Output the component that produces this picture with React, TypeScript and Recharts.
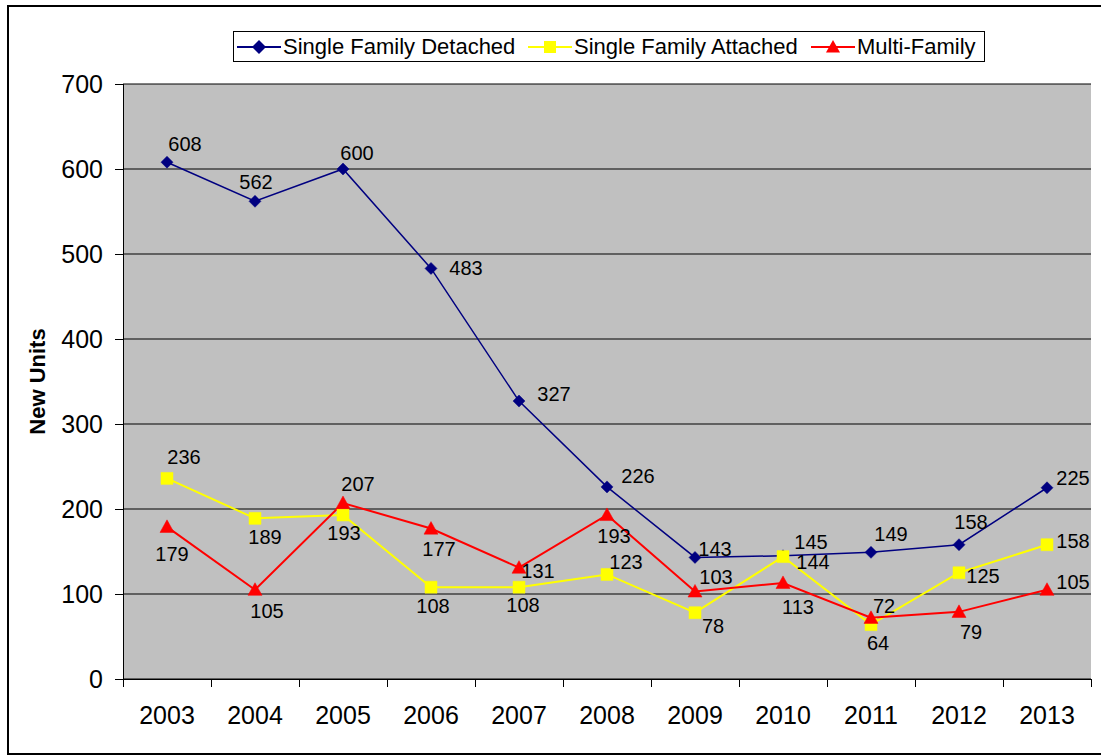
import {
  LineChart, Line, XAxis, YAxis, CartesianGrid, Legend, LabelList
} from 'recharts'

const YEARS = ['2003', '2004', '2005', '2006', '2007', '2008', '2009', '2010', '2011', '2012', '2013']
const DETACHED = [608, 562, 600, 483, 327, 226, 143, 145, 149, 158, 225]
const ATTACHED = [236, 189, 193, 108, 108, 123, 78, 144, 64, 125, 158]
const MULTI = [179, 105, 207, 177, 131, 193, 103, 113, 72, 79, 105]
const Y_TICKS = [0, 100, 200, 300, 400, 500, 600, 700]

// hand-placed data label offsets (dx, dy), like the excel original
const DETACHED_LABEL_POS = [[18, -18], [1, -19], [14, -16], [35, 0], [35, -7], [31, -11], [20, -8], [28, -14], [20, -18], [12, -23], [26, -10]]
const ATTACHED_LABEL_POS = [[17, -21], [10, 19], [1, 18], [2, 19], [4, 18], [19, -12], [18, 13], [30, 5], [7, 18], [24, 3], [26, -4]]
const MULTI_LABEL_POS = [[5, 27], [12, 21], [15, -19], [8, 20], [19, 3], [7, 21], [21, -14], [15, 24], [13, -12], [12, 20], [26, -8]]

const data = YEARS.map((year, i) => ({
  year,
  detached: DETACHED[i],
  attached: ATTACHED[i],
  multi: MULTI[i],
}))

const W = 1101
const H = 756
const PLOT_LEFT = 123
const PLOT_RIGHT = 1091
const HALF_BAND = (PLOT_RIGHT - PLOT_LEFT) / YEARS.length / 2
const FONT = '"Liberation Sans", Arial, sans-serif'

const NAVY = '#000080'
const YELLOW = '#FFFF00'
const RED = '#FF0000'

function diamond(cx: number, cy: number, r: number) {
  return `M${cx},${cy - r}L${cx + r},${cy}L${cx},${cy + r}L${cx - r},${cy}Z`
}
function square(cx: number, cy: number, r: number) {
  return `M${cx - r},${cy - r}h${2 * r}v${2 * r}h${-2 * r}Z`
}
function triangle(cx: number, cy: number, r: number) {
  return `M${cx},${cy - r}L${cx + r},${cy + r * 0.8}L${cx - r},${cy + r * 0.8}Z`
}

const makeDot = (shape: (x: number, y: number, r: number) => string, r: number, color: string) =>
  (p: any) => <path key={`d${p.index}`} d={shape(p.cx, p.cy, r)} fill={color} stroke={color} strokeWidth={0.5} />

const makeLabel = (pos: number[][]) => (p: any) => {
  const [dx, dy] = pos[p.index] || [0, 0]
  return (
    <text key={`l${p.index}`} x={p.x + dx} y={p.y + dy} textAnchor="middle" dominantBaseline="central"
      fontSize={20} fontFamily={FONT} fill="#000">{p.value}</text>
  )
}

const XTick = (p: any) => {
  const last = p.index === YEARS.length - 1
  return (
    <g shapeRendering="crispEdges">
      <line x1={p.x - HALF_BAND} x2={p.x - HALF_BAND} y1={p.y} y2={p.y + 8} stroke="#000" />
      {last && <line x1={p.x + HALF_BAND} x2={p.x + HALF_BAND} y1={p.y} y2={p.y + 8} stroke="#000" />}
      <text x={p.x} y={p.y + 45} textAnchor="middle" fontSize={25} fontFamily={FONT} fill="#000">
        {p.payload.value}
      </text>
    </g>
  )
}

const legendItems = [
  { name: 'Single Family Detached', color: NAVY, shape: diamond, r: 7, left: 3 },
  { name: 'Single Family Attached', color: YELLOW, shape: square, r: 6, left: 294 },
  { name: 'Multi-Family', color: RED, shape: triangle, r: 7, left: 577 },
]

function LegendBox() {
  return (
    <div style={{ position: 'relative', width: 752, height: 31, boxSizing: 'border-box', border: '1px solid #000', background: '#fff' }}>
      {legendItems.map((it) => (
        <div key={it.name} style={{ position: 'absolute', left: it.left, top: 0, height: 29, display: 'flex', alignItems: 'center' }}>
          <svg width={44} height={18}>
            <line x1={0} x2={44} y1={9} y2={9} stroke={it.color} strokeWidth={2} />
            <path d={it.shape(22, 9, it.r)} fill={it.color} />
          </svg>
          <span style={{ marginLeft: 2, fontFamily: FONT, fontSize: 22, color: '#000', whiteSpace: 'nowrap' }}>{it.name}</span>
        </div>
      ))}
    </div>
  )
}

export default function App() {
  return (
    <div style={{ position: 'absolute', left: 0, top: 0, width: W, height: H, overflow: 'hidden', background: '#fff' }}>
      <div style={{ position: 'absolute', left: 7, top: 5, width: 1110, height: 750, boxSizing: 'border-box', border: '2px solid #000' }} />
      <div style={{ position: 'absolute', left: 0, top: 0 }}>
        <LineChart width={W} height={H} data={data} margin={{ top: 84, right: W - PLOT_RIGHT, bottom: 0, left: 0 }}>
          <CartesianGrid vertical={false} stroke="#000" fill="#C0C0C0" fillOpacity={1}
            horizontal={{ stroke: '#000', shapeRendering: 'crispEdges' } as any} />
          <XAxis dataKey="year" scale="band" height={77} tick={<XTick />} tickLine={false} tickSize={0} tickMargin={0}
            axisLine={{ stroke: '#000', shapeRendering: 'crispEdges' } as any} interval={0} />
          <XAxis xAxisId="top" orientation="top" dataKey="year" scale="band" height={0} tick={false} tickLine={false}
            axisLine={{ stroke: '#808080', strokeWidth: 2 }} />
          <YAxis width={PLOT_LEFT} domain={[0, 700]} ticks={Y_TICKS} interval={0} tickSize={8} tickMargin={12}
            tick={{ fontSize: 25, fontFamily: FONT, fill: '#000' }}
            tickLine={{ stroke: '#000', shapeRendering: 'crispEdges' } as any}
            axisLine={{ stroke: '#000', shapeRendering: 'crispEdges' } as any}
            label={{
              value: 'New Units',
              content: (lp: any) => {
                const vb = lp.viewBox
                const cy = vb.y + vb.height / 2
                return (
                  <text x={37} y={cy} transform={`rotate(-90, 37, ${cy})`} textAnchor="middle" dominantBaseline="central"
                    fontSize={22} fontWeight="bold" fontFamily={FONT} fill="#000">New Units</text>
                )
              },
            }} />
          <YAxis yAxisId="right" orientation="right" width={0} domain={[0, 700]} tick={false} tickLine={false}
            axisLine={{ stroke: '#808080', strokeWidth: 2 }} />
          <Legend verticalAlign="middle" align="center" layout="horizontal"
            wrapperStyle={{ left: 233, top: 31, width: 752, height: 31 }} content={() => <LegendBox />} />
          <Line dataKey="detached" name="Single Family Detached" stroke={NAVY} strokeWidth={1.5}
            dot={makeDot(diamond, 6, NAVY)} activeDot={false} isAnimationActive={false}>
            <LabelList dataKey="detached" content={makeLabel(DETACHED_LABEL_POS)} />
          </Line>
          <Line dataKey="attached" name="Single Family Attached" stroke={YELLOW} strokeWidth={2}
            dot={makeDot(square, 6, YELLOW)} activeDot={false} isAnimationActive={false}>
            <LabelList dataKey="attached" content={makeLabel(ATTACHED_LABEL_POS)} />
          </Line>
          <Line dataKey="multi" name="Multi-Family" stroke={RED} strokeWidth={2}
            dot={makeDot(triangle, 7, RED)} activeDot={false} isAnimationActive={false}>
            <LabelList dataKey="multi" content={makeLabel(MULTI_LABEL_POS)} />
          </Line>
        </LineChart>
      </div>
    </div>
  )
}
